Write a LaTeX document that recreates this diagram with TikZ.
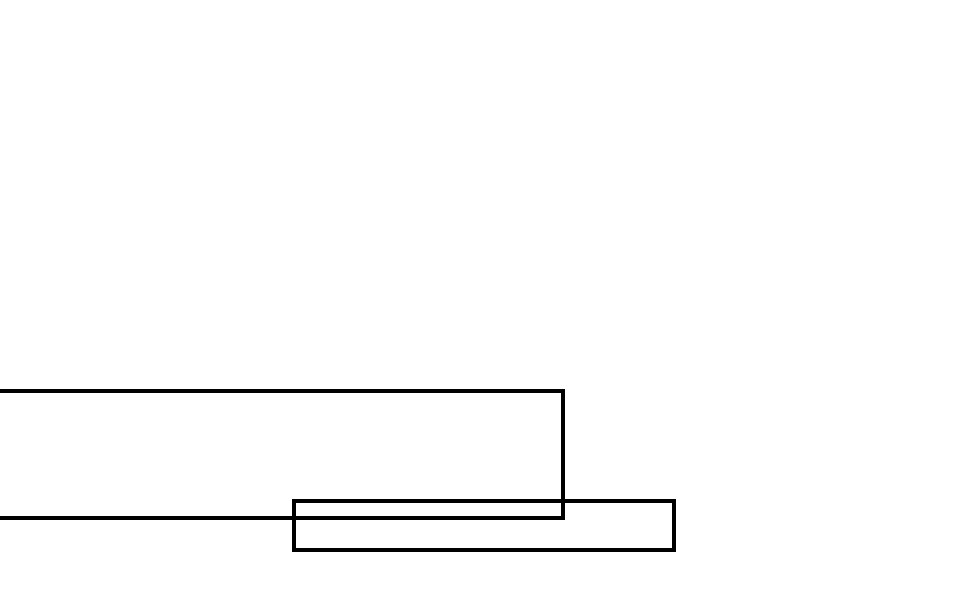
\documentclass[tikz,border=0pt]{standalone}
\usepackage{tikz}

\begin{document}
\begin{tikzpicture}[x=0.01cm,y=-0.01cm]
	  \tikzset{bar/.style={line width=0.04cm}}
	  \useasboundingbox (0,0) rectangle (959,612);
	  \clip (0,0) rectangle (959,612);
	  % long bar, runs off the left edge
	  \draw [bar] (-20,391) rectangle (563,518);
	  % short bar below it
	  \draw [bar] (294,501) rectangle (674,550);
\end{tikzpicture}
\end{document}
